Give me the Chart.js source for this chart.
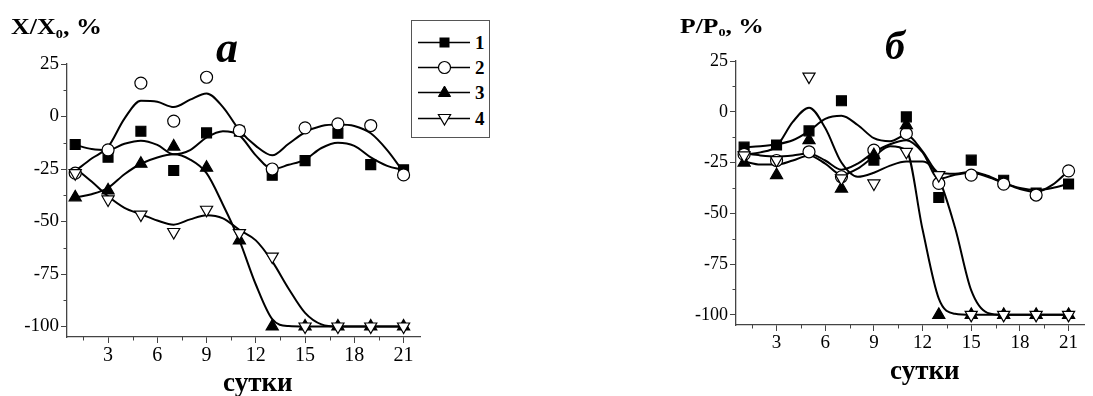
<!DOCTYPE html>
<html><head><meta charset="utf-8">
<script src="https://cdn.jsdelivr.net/npm/chart.js@4/dist/chart.umd.min.js"></script>
<style>
html,body{margin:0;padding:0;background:#fff;}
#wrap{position:relative;width:1093px;height:396px;overflow:hidden;font-family:'Liberation Serif','Times New Roman',serif;color:#000;}
canvas{position:absolute;top:0;}
.t{position:absolute;white-space:nowrap;line-height:1;font-weight:bold;transform-origin:left top;}
.t sub{font-size:0.55em;vertical-align:-0.3em;line-height:0;}
#legend{position:absolute;left:411px;top:20px;width:77px;height:116px;border:1px solid #555;background:#fff;}
</style></head>
<body><div id="wrap">
<canvas id="cA" width="546" height="396" style="left:0"></canvas>
<canvas id="cB" width="547" height="396" style="left:546px"></canvas>
<div class="t" style="left:11px;top:15px;font-size:23px;transform:scaleX(1.13)">X/X<sub>0</sub>, %</div>
<div class="t" style="left:680px;top:16px;font-size:20px;transform:scaleX(1.28)">P/P<sub>0</sub>, %</div>
<div class="t" style="left:216px;top:26px;font-size:44px;font-style:italic">а</div>
<div class="t" style="left:885px;top:26px;font-size:40px;font-style:italic">б</div>
<div class="t" style="left:223px;top:369px;font-size:27px">сутки</div>
<div class="t" style="left:890px;top:357px;font-size:27px">сутки</div>
<div id="legend">
<svg width="77" height="116" xmlns="http://www.w3.org/2000/svg" font-family="Liberation Serif" font-weight="bold" font-size="19">
 <g stroke="#000" stroke-width="1.6">
  <line x1="6" y1="21.5" x2="58" y2="21.5"/>
  <line x1="6" y1="46.5" x2="58" y2="46.5"/>
  <line x1="6" y1="71.5" x2="58" y2="71.5"/>
  <line x1="6" y1="97.5" x2="58" y2="97.5"/>
 </g>
 <rect x="27.5" y="16.5" width="10" height="10" fill="#000"/>
 <circle cx="32.5" cy="46.5" r="6" fill="#fff" stroke="#000" stroke-width="1.2"/>
 <polygon points="32.5,65 38.6,75.5 26.4,75.5" fill="#000" stroke="#000" stroke-width="1"/>
 <polygon points="32.5,104 38.6,93.5 26.4,93.5" fill="#fff" stroke="#000" stroke-width="1.2"/>
 <text x="63" y="28">1</text>
 <text x="63" y="53">2</text>
 <text x="63" y="78">3</text>
 <text x="63" y="104">4</text>
</svg>
</div>
</div>
<script>
// ---- data ----
const days = [1, 3, 5, 7, 9, 11, 13, 15, 17, 19, 21];
const fitDays = [1,2,3,4,5,6,7,8,9,10,11,12,13,14,15,16,17,18,19,20,21];
const xMajor = [3, 6, 9, 12, 15, 18, 21];
const xMinor = [1.5, 4.5, 7.5, 10.5, 13.5, 16.5, 19.5];
const yMajor = [-100, -75, -50, -25, 0, 25];
const yMinor = [-87.5, -62.5, -37.5, -12.5, 12.5];
const seriesNames = ['1', '2', '3', '4'];

// panel а : X/X0, %
const a1 = [-13.3, -19.4, -7, -25.7, -7.8, -7, -28, -21, -8, -22.9, -25.4];
const a2 = [-27, -15.9, 15.9, -2.2, 18.7, -6.7, -25, -5.4, -3.5, -4.3, -27.8];
const a3 = [-38.5, -35.2, -22.5, -14.3, -24.4, -59, -100, -100, -100, -100, -100];
const a4 = [-27, -39.5, -46.7, -55, -44.4, -55.5, -66.7, -100, -100, -100, -100];
const fitA1 = [-13.5,-15.5,-16,-13,-11.5,-13.5,-18,-16,-10,-7,-9,-18.5,-25,-23,-20.5,-15,-12.5,-14,-19.5,-23.5,-25.5];
const fitA2 = [-26,-20,-14.5,-1,7.5,7,4.5,8,11,4.5,-6.5,-14,-18.5,-13,-7.5,-4.5,-3.8,-4.5,-8,-16,-26.5];
const fitA3 = [-38.5,-37,-34,-27.5,-22.5,-19.5,-18,-20.5,-27,-42,-59,-80,-96.5,-99.8,-100,-100,-100,-100,-100,-100,-100];
const fitA4 = [-24.5,-31,-38,-43.5,-46.5,-49.5,-51.5,-49,-47,-48.5,-54,-59,-69,-82,-93.5,-99,-100,-100,-100,-100,-100];

// panel б : P/P0, %
const b1 = [-17.4, -16.4, -9.4, 5.4, -23.8, -2.5, -42.2, -23.8, -33.7, -40, -35.6];
const b2 = [-21, -24, -19.7, -32, -18.9, -10.7, -35.3, -31.2, -35.6, -41, -29.1];
const b3 = [-25, -31.2, -14, -37.8, -21.4, -6.6, -100, -100, -100, -100, -100];
const b4 = [-21.5, -23.8, 17.3, -32.8, -35.3, -19.7, -31.2, -100, -100, -100, -100];
const fitB1 = [-17.5,-17,-16,-14,-9.5,-3.5,-2,-6.5,-13,-14.5,-11.5,-19.5,-30,-30.5,-29.5,-31.5,-35,-37.5,-38.5,-37.5,-35.5];
const fitB2 = [-20.5,-21.5,-22,-21.5,-20.5,-24,-28.5,-25.5,-20,-16,-14,-20,-33,-31,-30,-32,-35,-38,-39.5,-36,-29];
const fitB3 = [-24.5,-26,-26,-24,-21.5,-25.5,-31,-28,-22,-17,-19,-58,-92,-99.5,-100,-100,-100,-100,-100,-100,-100];
const fitB4 = [-21,-20,-17,-5,2,-8,-25,-32,-30,-26.5,-24.5,-24.5,-33,-57,-88,-99,-100,-100,-100,-100,-100];

// ---- drawing ----
const styles = [
  {pointStyle: 'rect', radius: 7, bg: '#000', rot: 0},
  {pointStyle: 'circle', radius: 6, bg: '#fff', rot: 0},
  {pointStyle: 'triangle', radius: 7, bg: '#000', rot: 0},
  {pointStyle: 'triangle', radius: 7, bg: '#fff', rot: 180}
];
function pts(xs, ys) { return xs.map((x, i) => ({x: x, y: ys[i]})); }

const minorTicks = {
  id: 'minorTicks',
  afterDraw(chart) {
    const ctx = chart.ctx, xs = chart.scales.x, ys = chart.scales.y;
    ctx.save();
    ctx.strokeStyle = '#444';
    ctx.lineWidth = 1;
    xMinor.forEach(v => { const p = Math.round(xs.getPixelForValue(v)) + 0.5; ctx.beginPath(); ctx.moveTo(p, xs.top); ctx.lineTo(p, xs.top + 3.5); ctx.stroke(); });
    yMinor.forEach(v => { const p = Math.round(ys.getPixelForValue(v)) + 0.5; ctx.beginPath(); ctx.moveTo(ys.right, p); ctx.lineTo(ys.right - 3.5, p); ctx.stroke(); });
    ctx.restore();
  }
};

function makeChart(id, marks, fits, pad, xFont, yFont) {
  const datasets = [];
  fits.forEach((f, i) => {
    datasets.push({
      label: 'fit ' + seriesNames[i], data: pts(fitDays, f), showLine: true,
      borderColor: '#000', borderWidth: 2, pointRadius: 0, pointHoverRadius: 0,
      cubicInterpolationMode: 'monotone', fill: false, order: 10
    });
  });
  marks.forEach((m, i) => {
    const s = styles[i];
    datasets.push({
      label: seriesNames[i], data: pts(days, m), showLine: false,
      pointStyle: s.pointStyle, pointRadius: s.radius, pointRotation: s.rot,
      pointBackgroundColor: s.bg, pointBorderColor: '#000', pointBorderWidth: 1.2,
      order: 4 - i
    });
  });
  return new Chart(document.getElementById(id), {
    type: 'scatter',
    data: {datasets: datasets},
    options: {
      responsive: false, animation: false, devicePixelRatio: 1,
      layout: {padding: pad},
      plugins: {legend: {display: false}, tooltip: {enabled: false}, title: {display: false}},
      scales: {
        x: {
          type: 'linear', min: 0.5, max: 22,
          afterBuildTicks: s => { s.ticks = xMajor.map(v => ({value: v})); },
          afterFit: s => { s.height = 30; },
          ticks: {font: {family: 'Liberation Serif', size: xFont}, color: '#000', padding: 1, maxRotation: 0, autoSkip: false, callback: v => String(v)},
          grid: {drawOnChartArea: false, drawTicks: true, tickLength: 6, color: '#444', tickColor: '#444'},
          border: {display: true, color: '#444', width: 1.3}
        },
        y: {
          type: 'linear', min: -105, max: 25,
          afterBuildTicks: s => { s.ticks = yMajor.map(v => ({value: v})); },
          afterFit: s => { s.width = 67; },
          ticks: {font: {family: 'Liberation Serif', size: yFont}, color: '#000', padding: 2, autoSkip: false, callback: v => String(v)},
          grid: {drawOnChartArea: false, drawTicks: true, tickLength: 6, color: '#444', tickColor: '#444'},
          border: {display: true, color: '#444', width: 1.3}
        }
      }
    },
    plugins: [minorTicks]
  });
}

makeChart('cA', [a1, a2, a3, a4], [fitA1, fitA2, fitA3, fitA4], {left: 0, right: 126, top: 64, bottom: 29}, 20, 19);
makeChart('cB', [b1, b2, b3, b4], [fitB1, fitB2, fitB3, fitB4], {left: 123, right: 8, top: 61, bottom: 41}, 19, 18);
</script>
</body></html>
